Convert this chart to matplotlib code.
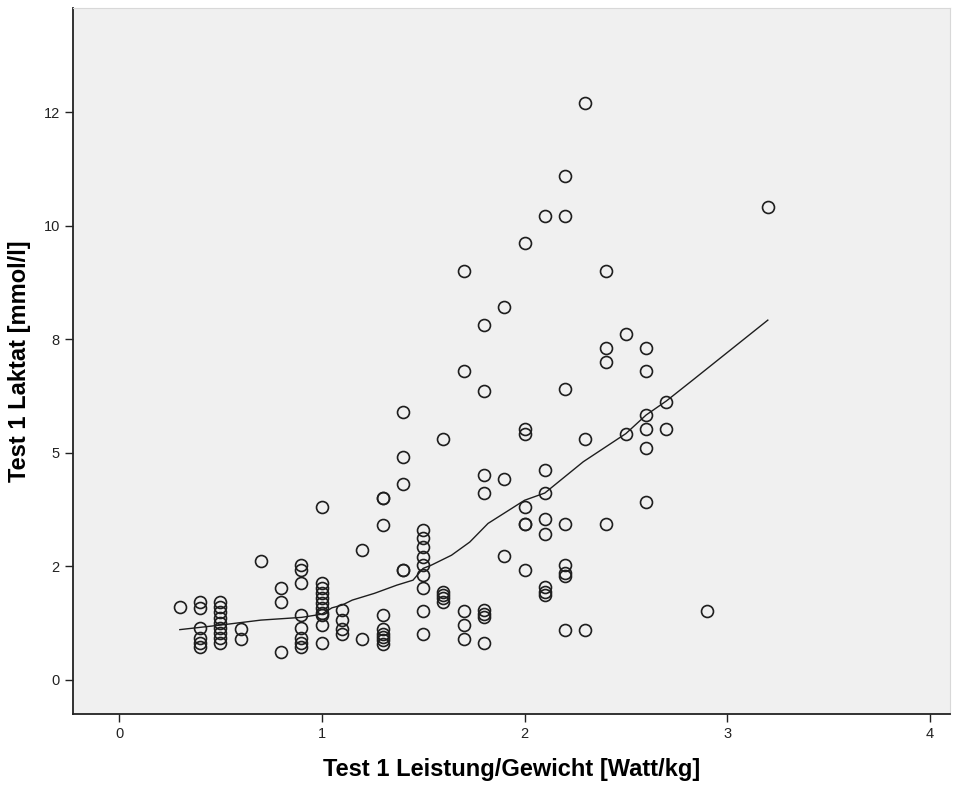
import numpy as np
import matplotlib
matplotlib.use("Agg")
import matplotlib.pyplot as plt

# Test 1: power/weight (x) vs. lactate (y), one entry per athlete
x_watt = [
    0.3,
    0.4, 0.4, 0.4, 0.4, 0.4, 0.4,
    0.5, 0.5, 0.5, 0.5, 0.5, 0.5, 0.5, 0.5, 0.5,
    0.6, 0.6,
    0.7,
    0.8, 0.8, 0.8,
    0.9, 0.9, 0.9, 0.9, 0.9, 0.9, 0.9, 0.9,
    1.0, 1.0, 1.0, 1.0, 1.0, 1.0, 1.0, 1.0, 1.0, 1.0, 1.0,
    1.1, 1.1, 1.1, 1.1,
    1.2, 1.2,
    1.3, 1.3, 1.3, 1.3, 1.3, 1.3, 1.3, 1.3, 1.3,
    1.4, 1.4, 1.4, 1.4, 1.4,
    1.5, 1.5, 1.5, 1.5, 1.5, 1.5, 1.5, 1.5, 1.5,
    1.6, 1.6, 1.6, 1.6, 1.6,
    1.7, 1.7, 1.7, 1.7, 1.7,
    1.8, 1.8, 1.8, 1.8, 1.8, 1.8, 1.8, 1.8,
    1.9, 1.9, 1.9,
    2.0, 2.0, 2.0, 2.0, 2.0, 2.0, 2.0,
    2.1, 2.1, 2.1, 2.1, 2.1, 2.1, 2.1, 2.1,
    2.2, 2.2, 2.2, 2.2, 2.2, 2.2, 2.2, 2.2,
    2.3, 2.3, 2.3,
    2.4, 2.4, 2.4, 2.4,
    2.5, 2.5,
    2.6, 2.6, 2.6, 2.6, 2.6, 2.6,
    2.7, 2.7,
    2.9,
    3.2,
]
y_laktat = [
    1.60,
    1.71, 1.57, 1.13, 0.91, 0.80, 0.71,
    1.71, 1.60, 1.48, 1.35, 1.24, 1.13, 1.02, 0.91, 0.80,
    1.12, 0.90,
    2.61,
    2.01, 1.71, 0.61,
    2.52, 2.41, 2.12, 1.42, 1.13, 0.91, 0.80, 0.71,
    3.81, 2.12, 2.01, 1.90, 1.79, 1.68, 1.57, 1.46, 1.42, 1.20, 0.81,
    1.53, 1.31, 1.12, 1.01,
    2.85, 0.90,
    4.01, 4.01, 3.40, 1.42, 1.12, 1.01, 0.94, 0.87, 0.79,
    5.90, 4.91, 4.31, 2.41, 2.41,
    3.29, 3.12, 2.92, 2.70, 2.52, 2.30, 2.01, 1.51, 1.01,
    5.30, 1.93, 1.86, 1.79, 1.71,
    9.01, 6.80, 1.51, 1.20, 0.90,
    7.81, 6.35, 4.50, 4.11, 1.53, 1.44, 1.37, 0.81,
    8.20, 4.42, 2.72,
    9.61, 5.51, 5.42, 3.81, 3.42, 3.42, 2.41,
    10.21, 4.61, 4.11, 3.53, 3.20, 2.04, 1.93, 1.86,
    11.10, 10.21, 6.41, 3.42, 2.52, 2.34, 2.28, 1.10,
    12.70, 5.31, 1.10,
    9.01, 7.30, 7.00, 3.42,
    7.61, 5.42,
    7.31, 6.80, 5.83, 5.51, 5.11, 3.92,
    6.12, 5.51,
    1.51,
    10.41,
]

# loess fit line
fit_x = [0.30, 0.50, 0.70, 0.90, 1.00, 1.05, 1.10, 1.15, 1.26, 1.37, 1.45, 1.50,
         1.54, 1.64, 1.73, 1.82, 2.00, 2.10, 2.29, 2.50, 2.60, 2.70, 2.83, 3.20]
fit_y = [1.10, 1.20, 1.31, 1.37, 1.44, 1.58, 1.64, 1.75, 1.90, 2.08, 2.19, 2.45,
         2.52, 2.74, 3.03, 3.44, 3.95, 4.11, 4.80, 5.42, 5.83, 6.14, 6.60, 7.92]

x_ticks = [0, 1, 2, 3, 4]
y_ticks = [0, 2.5, 5, 7.5, 10, 12.5]
y_tick_labels = ['0', '2', '5', '8', '10', '12']

plt.rcParams['font.family'] = ['Liberation Sans Narrow', 'Liberation Sans', 'DejaVu Sans']

fig = plt.figure(figsize=(9.63, 7.91), dpi=100)
ax = fig.add_axes([0.0758, 0.0973, 0.911, 0.8927])
ax.set_facecolor('#f0f0f0')

ax.plot(x_watt, y_laktat, linestyle='none', marker='o', markersize=8.6,
        markerfacecolor='none', markeredgecolor='#1e1e1e', markeredgewidth=1.2)
ax.plot(fit_x, fit_y, color='#1e1e1e', linewidth=1.0)

ax.set_xlim(-0.227, 4.10)
ax.set_ylim(-0.76, 14.8)
ax.set_xticks(x_ticks)
ax.set_xticklabels([str(t) for t in x_ticks])
ax.set_yticks(y_ticks)
ax.set_yticklabels(y_tick_labels)
ax.tick_params(direction='out', length=6, width=1, labelsize=10.5, colors='#222222')

for side in ['left', 'bottom']:
    ax.spines[side].set_color('#222222')
    ax.spines[side].set_linewidth(1.3)
for side in ['top', 'right']:
    ax.spines[side].set_color('#d8d8d8')
    ax.spines[side].set_linewidth(0.8)

ax.set_xlabel('Test 1 Leistung/Gewicht [Watt/kg]', fontsize=17, fontweight='bold', labelpad=12)
ax.set_ylabel('Test 1 Laktat [mmol/l]', fontsize=17, fontweight='bold', labelpad=9)

fig.savefig('out.png', dpi=100, facecolor='white')
